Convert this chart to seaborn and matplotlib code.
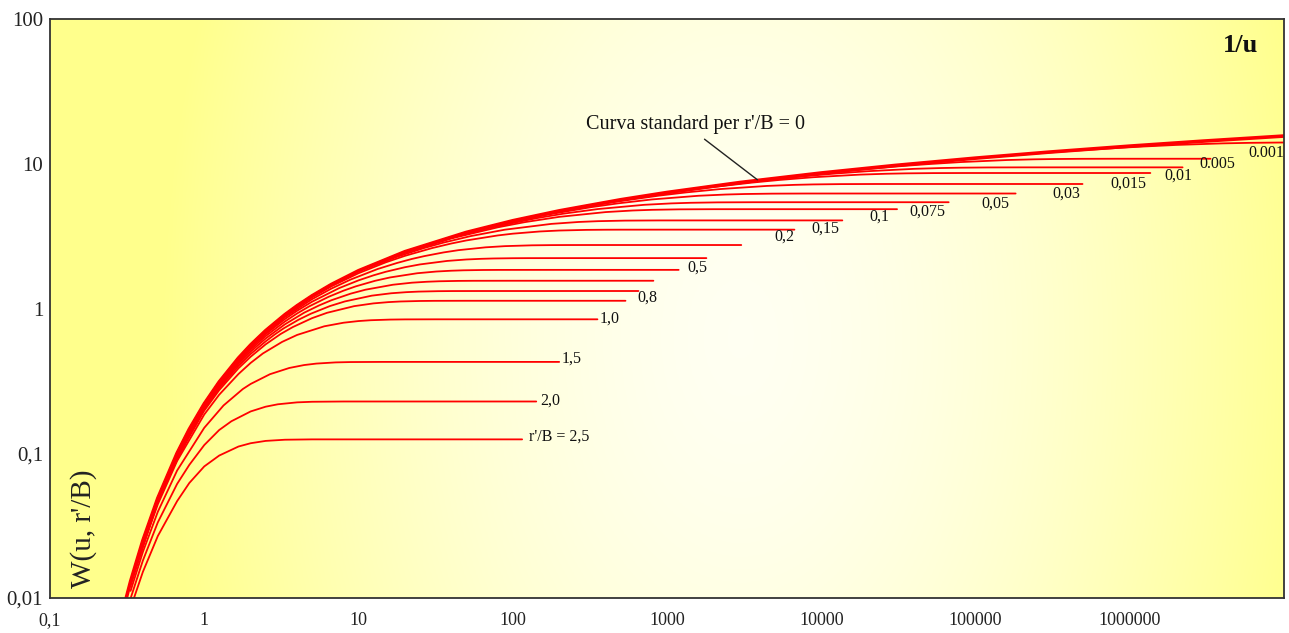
import numpy as np
import matplotlib
matplotlib.use("Agg")
import matplotlib.pyplot as plt
import seaborn as sns

# curva di Theis (r'/B = 0): 1/u e W(u)
theis_x = [0.25, 0.2857, 0.3333, 0.4, 0.5, 0.6667, 0.8, 1, 1.25, 1.667, 2, 2.5, 3.333, 4, 5,
           6.667, 10, 20, 50, 100, 200, 500, 1000, 3000, 1e4, 3e4, 1e5, 3e5, 1e6, 3e6, 1e7]
theis_w = [0.00378, 0.00697, 0.01305, 0.02491, 0.0489, 0.1, 0.1464, 0.2194, 0.3106, 0.4544, 0.5598,
           0.7024, 0.9057, 1.0443, 1.2227, 1.4645, 1.8229, 2.4679, 3.3547, 4.0379, 4.7261, 5.6394,
           6.3315, 7.4292, 8.6332, 9.7317, 10.9357, 12.0343, 13.2383, 14.3369, 15.5409]

# curve di drenanza W(u, r'/B)
rb2_5_x = [0.333, 0.4, 0.5, 0.667, 0.8, 1, 1.25, 1.667, 2, 2.5, 3.333, 5, 115]
rb2_5_w = [0.00853, 0.01515, 0.0268, 0.0467, 0.0623, 0.0811, 0.0964, 0.1113, 0.1173, 0.1217, 0.124, 0.1247, 0.1247]

rb2_0_x = [0.333, 0.4, 0.5, 0.667, 0.8, 1, 1.25, 1.5, 2, 2.5, 3, 4, 5, 8, 142]
rb2_0_w = [0.00994, 0.01813, 0.0333, 0.0614, 0.0831, 0.1139, 0.1447, 0.1664, 0.1945, 0.2097, 0.2179, 0.2247,
           0.2268, 0.2278, 0.2278]

rb1_5_x = [0.333, 0.4, 0.5, 0.667, 1, 1.333, 1.778, 2, 2.667, 3.556, 4.444, 5.333, 7.11, 8.89, 14.2, 200]
rb1_5_w = [0.0112, 0.0208, 0.0394, 0.076, 0.1499, 0.2138, 0.2777, 0.3012, 0.3516, 0.3882, 0.4068, 0.4164,
           0.4243, 0.4266, 0.4276, 0.4276]

rb1_0_x = [0.333, 0.4, 0.5, 0.667, 1, 1.25, 1.667, 2, 2.4, 3.2, 4, 6, 8, 10, 12, 16, 20, 32, 354]
rb1_0_w = [0.0122, 0.023, 0.0444, 0.0885, 0.1853, 0.2538, 0.3528, 0.421, 0.4892, 0.5882, 0.6567, 0.7535,
           0.7976, 0.819, 0.8298, 0.8384, 0.8409, 0.842, 0.842]

rb0_8_x = [0.333, 0.5, 0.667, 1, 1.25, 1.667, 2, 2.5, 3.125, 3.75, 5, 6.25, 9.375, 12.5, 15.6, 18.75, 25, 31,
           50, 538]
rb0_8_w = [0.0125, 0.046, 0.0925, 0.1969, 0.273, 0.3865, 0.4644, 0.5653, 0.6663, 0.7442, 0.8577, 0.9338,
           1.0382, 1.0847, 1.1067, 1.1182, 1.127, 1.1296, 1.1307, 1.1307]

rb0_7_x = [0.333, 0.5, 0.667, 1, 1.25, 1.667, 2, 2.5, 2.857, 3.265, 4.08, 4.9, 6.53, 8.16, 12.2, 16.3, 20.4,
           24.5, 32.7, 40.8, 65, 653]
rb0_7_w = [0.0126, 0.0467, 0.0942, 0.202, 0.2813, 0.4014, 0.4853, 0.5926, 0.6605, 0.7284, 0.8357, 0.9196,
           1.0397, 1.119, 1.2268, 1.2743, 1.2967, 1.3084, 1.3173, 1.3199, 1.321, 1.321]

rb0_6_x = [0.333, 0.5, 0.667, 1, 1.25, 1.667, 2, 2.5, 3.333, 4.44, 5.56, 6.67, 8.89, 11.1, 16.7, 22.2, 27.8,
           33.3, 44.4, 55.6, 100, 816]
rb0_6_w = [0.0128, 0.0472, 0.0957, 0.2064, 0.2888, 0.4148, 0.504, 0.6201, 0.7775, 0.9349, 1.051, 1.1402,
           1.2662, 1.3486, 1.4593, 1.5078, 1.5305, 1.5422, 1.5513, 1.5539, 1.555, 1.555]

rb0_5_x = [0.333, 0.5, 0.667, 1, 1.25, 1.667, 2, 2.5, 3.333, 4, 4.8, 6.4, 8, 9.6, 12.8, 16, 24, 32, 40, 48,
           64, 80, 200, 1190]
rb0_5_w = [0.0128, 0.0477, 0.097, 0.2103, 0.2953, 0.4265, 0.5204, 0.6442, 0.8131, 0.9244, 1.0357, 1.2046,
           1.3284, 1.4223, 1.5535, 1.6385, 1.7518, 1.8011, 1.824, 1.836, 1.8451, 1.8477, 1.8488, 1.8488]

rb0_4_x = [0.333, 0.5, 0.667, 1, 1.25, 1.667, 2, 2.5, 3.333, 4, 5, 7.5, 10, 12.5, 15, 20, 25, 37.5, 50, 62.5,
           75, 100, 125, 250, 1800]
rb0_4_w = [0.0129, 0.0482, 0.0981, 0.2135, 0.3007, 0.4364, 0.5343, 0.6646, 0.8452, 0.9647, 1.1145, 1.3838,
           1.5644, 1.6947, 1.7926, 1.9283, 2.0155, 2.1309, 2.1808, 2.2041, 2.2161, 2.2252, 2.2279, 2.229, 2.229]

rb0_3_x = [0.333, 0.5, 1, 2, 3.333, 5, 6.67, 8.89, 13.3, 17.8, 22.2, 26.7, 35.6, 44.4, 66.7, 88.9, 133, 178,
           222, 333, 3030]
rb0_3_w = [0.013, 0.0485, 0.2161, 0.5453, 0.8712, 1.1598, 1.3725, 1.5852, 1.8738, 2.0642, 2.1997, 2.3008,
           2.44, 2.5289, 2.6461, 2.6965, 2.732, 2.7412, 2.7439, 2.745, 2.745]

rb0_2_x = [0.333, 0.5, 1, 2, 3.333, 5, 6.67, 10, 15, 20, 30, 40, 50, 80, 100, 150, 200, 300, 400, 500, 1000,
           6700]
rb0_2_w = [0.013, 0.0487, 0.2179, 0.5533, 0.8903, 1.1943, 1.4223, 1.7527, 2.0831, 2.3111, 2.6151, 2.8127,
           2.9521, 3.1973, 3.2875, 3.4059, 3.4567, 3.4924, 3.5016, 3.5043, 3.5054, 3.5054]

# per r'/B piccoli la curva coincide con Theis fino al primo punto
rb0_15_x = [13.33, 17.8, 26.7, 35.6, 53.3, 88.9, 178, 267, 356, 533, 889, 2000, 13700]
rb0_15_w = [2.03, 2.2774, 2.6194, 2.8534, 3.1631, 3.504, 3.8416, 3.9604, 4.0113, 4.0471, 4.059, 4.0601, 4.0601]

rb0_1_x = [20, 40, 80, 120, 200, 400, 600, 800, 1200, 2000, 4000, 31000]
rb0_1_w = [2.4271, 3.0492, 3.6386, 3.9523, 4.2959, 4.6351, 4.7542, 4.8052, 4.8411, 4.853, 4.8541, 4.8541]

rb0_075_x = [26.67, 35.6, 71.1, 142, 213, 356, 711, 1067, 1422, 2133, 3556, 7000, 67000]
rb0_075_w = [2.7114, 2.978, 3.6101, 4.2041, 4.5193, 4.8639, 5.2036, 5.3229, 5.3739, 5.4098, 5.4217, 5.4228,
             5.4228]

rb0_05_x = [40, 80, 160, 320, 480, 800, 1600, 2400, 3200, 4800, 8000, 16000, 182000]
rb0_05_w = [3.1142, 3.771, 4.4101, 5.0076, 5.3238, 5.6691, 6.0092, 6.1285, 6.1796, 6.2155, 6.2274, 6.2285,
            6.2285]

rb0_03_x = [66.7, 88.9, 222, 444, 889, 1333, 2222, 4444, 6667, 8889, 13333, 22222, 50000, 494000]
rb0_03_w = [3.6235, 3.8923, 4.7791, 5.4241, 6.0243, 6.3413, 6.6872, 7.0276, 7.147, 7.1981, 7.234, 7.2459,
            7.247, 7.247]

rb0_015_x = [133, 178, 356, 889, 1778, 3556, 5333, 8889, 17778, 26667, 35556, 53333, 88889, 2e5, 1.36e6]
rb0_015_w = [4.3157, 4.5935, 5.2767, 6.1635, 6.8085, 7.4087, 7.7257, 8.0716, 8.412, 8.5314, 8.5825, 8.6184,
             8.6303, 8.6314, 8.6314]

rb0_01_x = [200, 400, 800, 2000, 4000, 8000, 12000, 20000, 40000, 60000, 80000, 120000, 200000, 500000, 2.2e6]
rb0_01_w = [4.7212, 5.4045, 6.0877, 6.9745, 7.6195, 8.2197, 8.5367, 8.8826, 9.223, 9.3424, 9.3935, 9.4293,
            9.4413, 9.4424, 9.4424]

rb0_005_x = [400, 800, 1600, 3200, 8000, 16000, 32000, 48000, 80000, 160000, 240000, 320000, 480000, 800000,
             2e6, 3.34e6]
rb0_005_w = [5.4143, 6.1025, 6.7907, 7.4739, 8.3607, 9.0057, 9.6059, 9.9229, 10.2688, 10.6092, 10.7286,
             10.7797, 10.8156, 10.8275, 10.8286, 10.8286]

rb0_001_x = [2000, 4000, 8000, 20000, 40000, 80000, 2e5, 4e5, 8e5, 1.2e6, 2e6, 4e6, 6e6, 1e7]
rb0_001_w = [7.0237, 7.7159, 8.408, 9.3213, 10.0095, 10.6927, 11.5795, 12.2245, 12.8247, 13.1417, 13.4876,
             13.828, 13.9474, 14.0225]

# etichette delle curve e loro posizione (1/u, W)
etichette = ["0.001", "0.005", "0,01", "0,015", "0,03", "0,05", "0,075", "0,1", "0,15", "0,2",
             "0,5", "0,8", "1,0", "1,5", "2,0", "r'/B = 2,5"]
etich_x = [5.9e6, 2.84e6, 1.68e6, 7.5e5, 3.15e5, 1.09e5, 3.73e4, 2.06e4, 8630, 4970,
           1355, 642, 365, 207, 151, 128]
etich_y = [11.9, 10.0, 8.33, 7.28, 6.21, 5.30, 4.67, 4.31, 3.56, 3.14,
           1.92, 1.19, 0.853, 0.452, 0.232, 0.131]

xtick_val = [0.1, 1, 10, 100, 1000, 1e4, 1e5, 1e6]
xtick_lab = ["0,1", "1", "10", "100", "1000", "10000", "100000", "1000000"]
ytick_val = [0.01, 0.1, 1, 10, 100]
ytick_lab = ["0,01", "0,1", "1", "10", "100"]

curve = [(rb2_5_x, rb2_5_w), (rb2_0_x, rb2_0_w), (rb1_5_x, rb1_5_w), (rb1_0_x, rb1_0_w),
         (rb0_8_x, rb0_8_w), (rb0_7_x, rb0_7_w), (rb0_6_x, rb0_6_w), (rb0_5_x, rb0_5_w),
         (rb0_4_x, rb0_4_w), (rb0_3_x, rb0_3_w), (rb0_2_x, rb0_2_w), (rb0_15_x, rb0_15_w),
         (rb0_1_x, rb0_1_w), (rb0_075_x, rb0_075_w), (rb0_05_x, rb0_05_w), (rb0_03_x, rb0_03_w),
         (rb0_015_x, rb0_015_w), (rb0_01_x, rb0_01_w), (rb0_005_x, rb0_005_w), (rb0_001_x, rb0_001_w)]

sns.set_style("white")
plt.rcParams['font.family'] = ['Liberation Serif', 'DejaVu Serif']

W, H = 1289, 633
fig = plt.figure(figsize=(W / 100, H / 100), dpi=100)
pos = [50 / W, 1 - 598 / H, (1284 - 50) / W, (598 - 19) / H]

# sfondo sfumato giallo
bg = fig.add_axes(pos, zorder=0)
gx, gy = np.meshgrid(np.linspace(0, 1, 400), np.linspace(0, 1, 200))
d = np.sqrt(((gx - 0.56) / 0.47) ** 2 + ((gy - 0.55) / 1.6) ** 2)
t = np.clip(d, 0, 1) ** 1.6
c0 = np.array([1.0, 1.0, 0.95])
c1 = np.array([1.0, 1.0, 0.55])
bg.imshow(c0 + (c1 - c0) * t[..., None], aspect="auto", extent=[0, 1, 0, 1])
bg.axis("off")

ax = fig.add_axes(pos, zorder=1)
ax.set_facecolor("none")
ax.set_xscale("log")
ax.set_yscale("log")

for xs, ws in curve:
    if xs[0] > 1:
        pre = [(a, b) for a, b in zip(theis_x, theis_w) if a < xs[0]]
        xs = [p[0] for p in pre] + list(xs)
        ws = [p[1] for p in pre] + list(ws)
    sns.lineplot(x=xs, y=ws, ax=ax, color="#ff0000", lw=1.3, sort=False, estimator=None)

sns.lineplot(x=theis_x, y=theis_w, ax=ax, color="#ff0000", lw=2.6, sort=False, estimator=None)

for lab, lx, ly in zip(etichette, etich_x, etich_y):
    ax.text(lx, ly, lab, ha="left", va="center", fontsize=11.5, color="#111111")

ax.annotate("Curva standard per r'/B = 0", xy=(3855, 7.75), xytext=(300, 18.6),
            ha="left", va="center", fontsize=14.5, color="#111111",
            arrowprops=dict(arrowstyle="-", color="#222222", lw=1, relpos=(0.51, 0), shrinkA=2, shrinkB=0))

ax.set_xlim(0.1, 1e7)
ax.set_ylim(0.01, 100)
ax.set_xticks(xtick_val)
ax.set_xticklabels(xtick_lab)
ax.set_yticks(ytick_val)
ax.set_yticklabels(ytick_lab)
ax.minorticks_off()
ax.tick_params(axis="x", direction="in", length=20, width=1.3, pad=10, labelsize=13, colors="#222222")
ax.tick_params(axis="y", direction="in", length=19, width=1.3, pad=5, labelsize=15, colors="#222222")
for s in ax.spines.values():
    s.set_color("#333333")
    s.set_linewidth(1.3)

ax.set_xlabel("")
ax.set_ylabel("")
ax.text(0.027, 0.12, "W(u, r'/B)", transform=ax.transAxes, rotation=90, ha="center", va="center",
        fontsize=21, color="#222222")
ax.text(0.965, 0.955, "1/u", transform=ax.transAxes, ha="center", va="center",
        fontsize=19, fontweight="bold", color="#111111")

fig.savefig("out.png", dpi=100)
